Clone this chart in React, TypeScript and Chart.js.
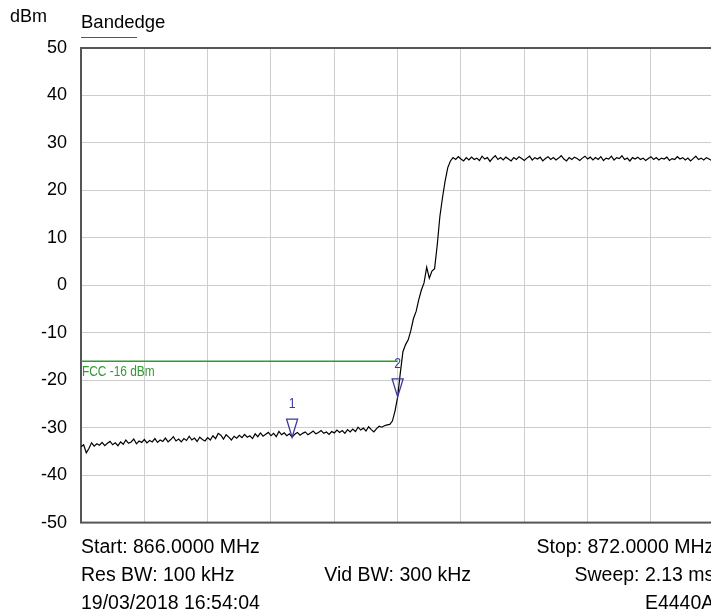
import React, { useEffect, useRef } from 'react';
import { Chart, registerables } from 'chart.js';

Chart.register(...registerables);

// ---------- data ----------
const START_MHZ = 866;
const STOP_MHZ = 872;
const FREQ_DIV_MHZ = 0.6;
const TOP_DBM = 50;
const BOTTOM_DBM = -50;
const DBM_DIV = 10;

// Trace level (dBm), evenly spaced from START_MHZ to STOP_MHZ (241 points)
const traceDbm: number[] = [
  -34.0, -33.6, -35.3, -34.4, -33.2, -33.9, -33.4, -33.7, -33.1, -33.8, -33.3, -32.9, -33.6, -33.2, -33.8, -33.0, -33.5, -32.6, -33.3, -33.0,
  -32.4, -33.4, -32.8, -33.1, -32.5, -33.2, -32.7, -33.0, -32.3, -33.1, -32.6, -32.9, -32.2, -33.0, -32.5, -31.9, -32.8, -32.4, -33.0, -32.3,
  -32.7, -31.8, -32.6, -32.2, -32.9, -32.0, -32.5, -32.8, -32.1, -32.6, -31.7, -32.3, -31.2, -31.6, -32.4, -31.5, -32.0, -32.6, -31.8, -32.2,
  -31.6, -32.1, -31.4, -32.0, -31.7, -32.3, -31.3, -31.9, -31.1, -31.8, -31.4, -31.0, -31.7, -31.2, -31.9, -30.8, -31.5, -31.1, -31.7, -31.3,
  -32.0, -31.4, -31.0, -31.6, -31.2, -30.9, -31.5, -31.1, -30.7, -31.3, -31.0, -30.6, -31.2, -30.9, -31.4, -30.8, -31.1, -30.5, -31.0, -30.6,
  -31.2, -30.4, -30.9, -30.3, -30.8, -29.9, -30.5, -30.1, -30.7, -29.8, -30.4, -30.9, -30.2, -29.7, -29.9, -29.6, -29.4, -29.3, -28.6, -26.5,
  -23.5, -18.5, -14.0, -12.5, -11.5, -9.5, -7.0, -5.5, -3.0, -1.0, 0.5, 3.8, 1.5, 3.0, 3.5, 8.5, 14.5, 18.5, 22.0, 24.8,
  26.2, 26.9, 26.5, 27.1, 26.6, 26.2, 26.9, 26.4, 27.0, 26.5, 26.8, 26.3, 27.2, 26.6, 26.9, 26.1, 26.8, 27.3, 26.5, 26.9,
  26.4, 27.0, 26.6, 26.2, 26.9, 26.5, 27.1, 26.7, 26.3, 26.8, 27.2, 26.4, 26.9, 26.6, 27.0, 26.2, 26.7, 27.1, 26.5, 26.9,
  26.4, 26.8, 27.3, 26.6, 26.2, 26.9, 26.5, 27.0, 26.7, 26.3, 26.8, 27.2, 26.6, 27.0, 26.4, 26.9, 26.5, 27.1, 26.3, 26.8,
  26.6, 27.2, 26.4, 26.9, 26.7, 27.3, 26.5, 26.8, 26.2, 26.9, 26.6, 27.0, 26.5, 26.8, 26.3, 26.7, 27.1, 26.5, 26.9, 26.4,
  26.8, 26.6, 27.0, 26.3, 26.7, 26.5, 27.1, 26.6, 26.9, 26.4, 26.8, 26.2, 26.7, 27.2, 26.5, 26.8, 26.4, 26.9, 26.6, 26.3,
  26.7,
];

const markerNames = ['1', '2'];
const markerFreqMhz = [868.0, 869.0];
const markerDbm = [-32.0, -23.5];

const limitDbm = -16;
const limitStartMhz = 866.0;
const limitStopMhz = 869.0;
const limitLabel = 'FCC -16 dBm';

const yUnit = 'dBm';
const chartTitle = 'Bandedge';
const infoLeft = ['Start: 866.0000 MHz', 'Res BW: 100 kHz', '19/03/2018 16:54:04'];
const infoCenter = ['', 'Vid BW: 300 kHz', ''];
const infoRight = ['Stop: 872.0000 MHz', 'Sweep: 2.13 ms', 'E4440A'];

// ---------- styling ----------
const CANVAS_W = 740;
const CANVAS_H = 615;
const PLOT_LEFT = 81;
const PLOT_RIGHT = 714.3;
const PLOT_TOP = 48;
const PLOT_BOTTOM = 522.6;
const SANS = '"Liberation Sans", Arial, Helvetica, sans-serif';
const GRID = '#cdcdcd';
const FRAME = '#555555';
const MARKER = '#3a3a9e';
const LIMIT = '#2f9b2f';
const NARROW_SCALE = 0.82;

const framePlugin = {
  id: 'frame',
  beforeDatasetsDraw(chart: any) {
    const { ctx, chartArea } = chart;
    ctx.save();
    ctx.strokeStyle = FRAME;
    ctx.lineWidth = 2;
    ctx.strokeRect(chartArea.left, chartArea.top, chartArea.right - chartArea.left, chartArea.bottom - chartArea.top);
    ctx.restore();
  },
};

function narrowText(ctx: CanvasRenderingContext2D, text: string, x: number, y: number, align: 'left' | 'center') {
  ctx.save();
  ctx.translate(x, y);
  ctx.scale(NARROW_SCALE, 1);
  ctx.textAlign = align;
  ctx.textBaseline = 'alphabetic';
  ctx.fillText(text, 0, 0);
  ctx.restore();
}

const annotationPlugin = {
  id: 'annotations',
  afterDatasetsDraw(chart: any) {
    const { ctx, scales } = chart;
    const xs = scales.x;
    const ys = scales.y;
    ctx.save();
    // limit label
    const ly = ys.getPixelForValue(limitDbm);
    const lx = xs.getPixelForValue(limitStartMhz);
    ctx.fillStyle = LIMIT;
    ctx.font = `14.5px ${SANS}`;
    narrowText(ctx, limitLabel, lx + 1, ly + 14.5, 'left');
    // markers
    ctx.strokeStyle = MARKER;
    ctx.fillStyle = MARKER;
    ctx.lineWidth = 1.3;
    ctx.font = `15px ${SANS}`;
    for (let i = 0; i < markerNames.length; i++) {
      const mx = xs.getPixelForValue(markerFreqMhz[i]);
      const my = ys.getPixelForValue(markerDbm[i]);
      ctx.beginPath();
      ctx.moveTo(mx - 5.5, my - 18);
      ctx.lineTo(mx + 5.5, my - 18);
      ctx.lineTo(mx, my);
      ctx.closePath();
      ctx.stroke();
      narrowText(ctx, markerNames[i], mx, my - 29, 'center');
    }
    ctx.restore();
  },
};

export default function App() {
  const ref = useRef<HTMLCanvasElement>(null);

  useEffect(() => {
    const canvas = ref.current;
    if (!canvas) return;
    const step = (STOP_MHZ - START_MHZ) / (traceDbm.length - 1);
    const tracePoints = traceDbm.map((v, i) => ({ x: START_MHZ + i * step, y: v }));
    const limitPoints = [
      { x: limitStartMhz, y: limitDbm },
      { x: limitStopMhz, y: limitDbm },
    ];

    const chart = new Chart(canvas, {
      type: 'line',
      data: {
        datasets: [
          {
            data: limitPoints,
            borderColor: LIMIT,
            borderWidth: 1.5,
            pointRadius: 0,
            tension: 0,
          },
          {
            data: tracePoints,
            borderColor: '#000000',
            borderWidth: 1.2,
            pointRadius: 0,
            tension: 0,
          },
        ],
      },
      options: {
        animation: false,
        responsive: false,
        devicePixelRatio: 1,
        events: [],
        layout: {
          padding: {
            left: 0,
            top: PLOT_TOP,
            right: CANVAS_W - PLOT_RIGHT,
            bottom: CANVAS_H - PLOT_BOTTOM,
          },
        },
        plugins: {
          legend: { display: false },
          tooltip: { enabled: false },
          title: { display: false },
        },
        scales: {
          x: {
            type: 'linear',
            min: START_MHZ,
            max: STOP_MHZ,
            ticks: { display: false, stepSize: FREQ_DIV_MHZ },
            grid: { color: GRID, lineWidth: 1, drawTicks: false },
            border: { display: false },
            afterFit: (s: any) => {
              s.height = 0;
            },
          },
          y: {
            type: 'linear',
            min: BOTTOM_DBM,
            max: TOP_DBM,
            ticks: {
              stepSize: DBM_DIV,
              padding: 14,
              color: '#000000',
              font: { family: SANS, size: 18 },
            },
            grid: { color: GRID, lineWidth: 1, drawTicks: false },
            border: { display: false },
            afterFit: (s: any) => {
              s.width = PLOT_LEFT;
            },
          },
        },
      },
      plugins: [framePlugin, annotationPlugin],
    } as any);

    return () => chart.destroy();
  }, []);

  const rowBase = [553.3, 581.5, 609.7];
  const fs = 19.5;
  const textStyle = (top: number): React.CSSProperties => ({
    position: 'absolute',
    top: top - fs * 0.8465,
    fontFamily: SANS,
    fontSize: fs,
    lineHeight: `${fs}px`,
    color: '#000',
    whiteSpace: 'nowrap',
  });

  return (
    <div
      style={{
        position: 'fixed',
        left: 0,
        top: 0,
        width: 711,
        height: 615,
        overflow: 'hidden',
        background: '#ffffff',
      }}
    >
      <canvas
        ref={ref}
        width={CANVAS_W}
        height={CANVAS_H}
        style={{ position: 'absolute', left: 0, top: 0, display: 'block' }}
      />
      <div
        style={{
          position: 'absolute',
          left: 10,
          top: 22.7 - 18 * 0.8465,
          fontFamily: SANS,
          fontSize: 18,
          lineHeight: '18px',
          color: '#000',
        }}
      >
        {yUnit}
      </div>
      <div
        style={{
          position: 'absolute',
          left: 81,
          top: 28.5 - 18.5 * 0.8465,
          fontFamily: SANS,
          fontSize: 18.5,
          lineHeight: '18.5px',
          color: '#000',
        }}
      >
        {chartTitle}
      </div>
      <div style={{ position: 'absolute', left: 81, top: 37, width: 56, height: 1, background: FRAME }} />
      {rowBase.map((b, i) => (
        <React.Fragment key={i}>
          <div style={{ ...textStyle(b), left: 81 }}>{infoLeft[i]}</div>
          {infoCenter[i] ? (
            <div style={{ ...textStyle(b), left: PLOT_LEFT, width: PLOT_RIGHT - PLOT_LEFT, textAlign: 'center' }}>
              {infoCenter[i]}
            </div>
          ) : null}
          <div style={{ ...textStyle(b), left: 0, width: PLOT_RIGHT, textAlign: 'right' }}>{infoRight[i]}</div>
        </React.Fragment>
      ))}
    </div>
  );
}
